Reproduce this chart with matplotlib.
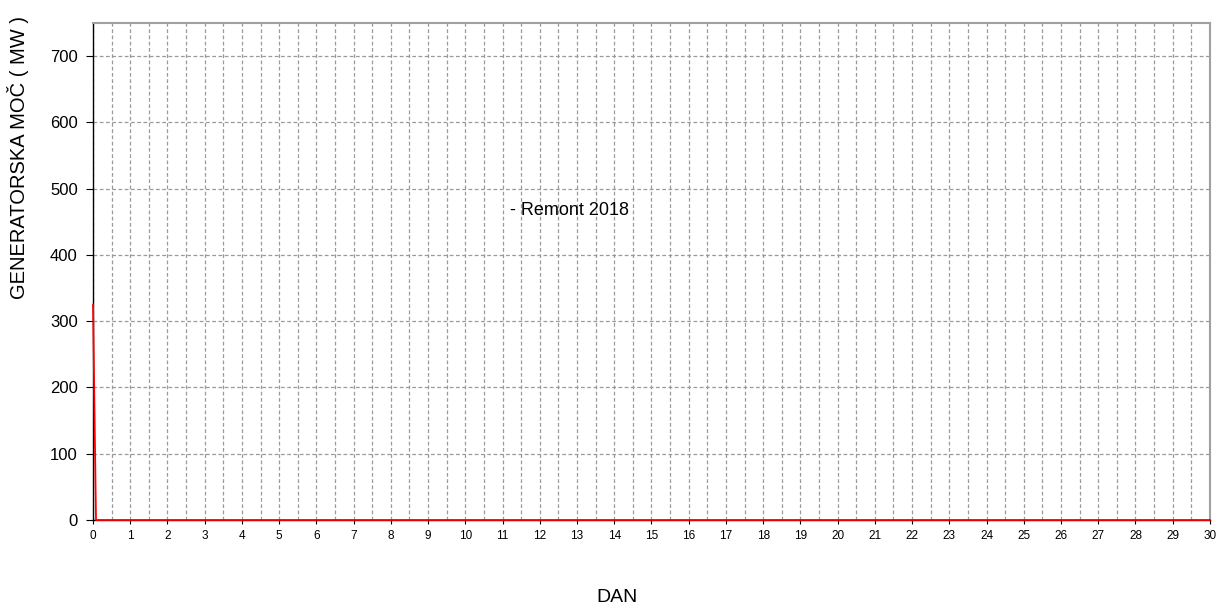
import numpy as np
import matplotlib
matplotlib.use('Agg')
import matplotlib.pyplot as plt

plt.rcParams['font.family'] = ['Liberation Sans', 'DejaVu Sans']

# generator power over the month (day, MW)
days = [0.0, 0.08, 30.0]
power_mw = [325, 0, 0]

x_ticks = list(range(0, 31))
y_ticks = [0, 100, 200, 300, 400, 500, 600, 700]
note = '- Remont 2018'

fig = plt.figure(figsize=(12.16, 6.07), dpi=100, facecolor='white')
ax = fig.add_axes([0.0765, 0.1433, 0.9185, 0.8187])

ax.plot(days, power_mw, color='#ff0000', lw=1.3, zorder=3, clip_on=False)

ax.set_xlim(0, 30)
ax.set_ylim(0, 750)
ax.set_xticks(x_ticks)
ax.set_xticks(np.arange(0.5, 30, 1.0), minor=True)
ax.set_yticks(y_ticks)
ax.tick_params(axis='x', which='major', labelsize=8.5, length=3, pad=4)
ax.tick_params(axis='x', which='minor', length=0)
ax.tick_params(axis='y', labelsize=12, length=5, pad=6)

ax.grid(True, which='both', axis='x', color='#9a9a9a', ls=(0, (3, 2)), lw=0.9)
ax.grid(True, which='major', axis='y', color='#9a9a9a', ls=(0, (3, 2)), lw=0.9)
ax.set_axisbelow(True)

for s in ['top', 'right']:
    ax.spines[s].set_color('#a0a0a0')
    ax.spines[s].set_linewidth(1.5)
for s in ['left', 'bottom']:
    ax.spines[s].set_color('black')
    ax.spines[s].set_linewidth(1.0)

ax.text(11.2, 467, note, fontsize=13, va='center', ha='left')

ax.set_xlabel('DAN', fontsize=14)
ax.xaxis.set_label_coords(0.469, -0.138)
ax.set_ylabel('GENERATORSKA MOČ ( MW )', fontsize=14.5)
ax.yaxis.set_label_coords(-0.057, 0.73)

plt.savefig('out.png', dpi=100, facecolor='white')
